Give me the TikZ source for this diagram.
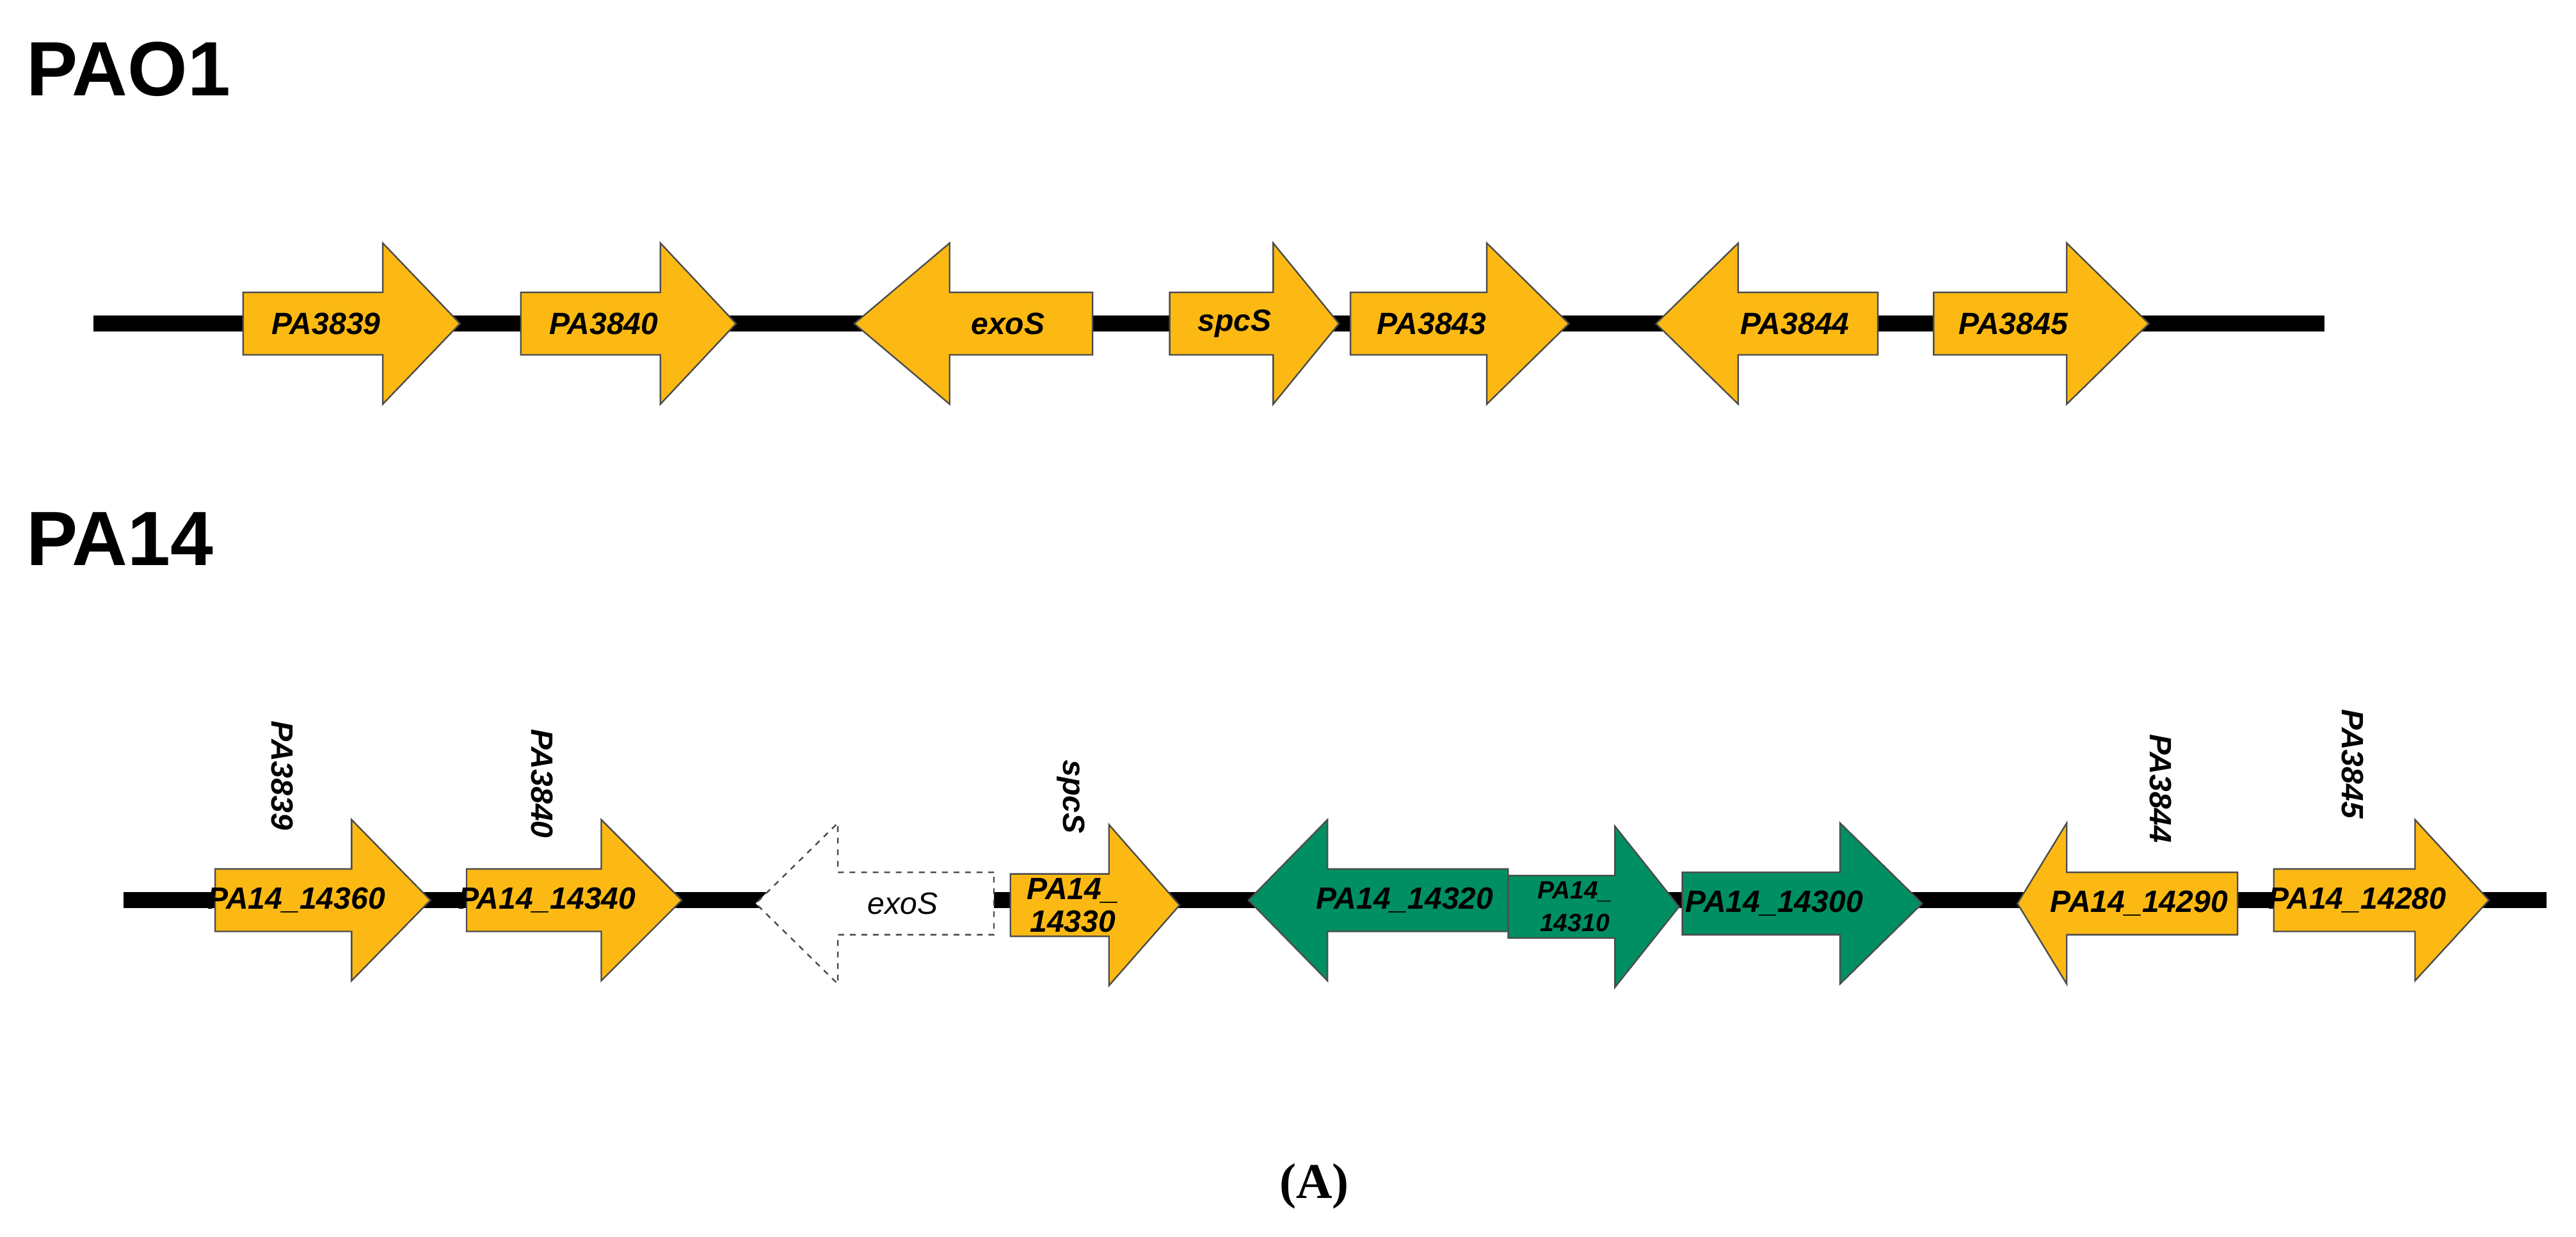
\documentclass[tikz,border=0pt]{standalone}
\usepackage{fontspec}
\setmainfont{Liberation Sans}
\newfontfamily\capfont{Liberation Serif}
\usetikzlibrary{positioning}

\definecolor{geneyellow}{HTML}{FDB913}
\definecolor{genegreen}{HTML}{008F62}

% gene arrow pointing right: name, x left, x head base, x tip, y, style
\newcommand{\generight}[6]{%
  \draw[#6] (#2,#5-19) -- (#3,#5-19) -- (#3,#5-49) -- (#4,#5) -- (#3,#5+49)
    -- (#3,#5+19) -- (#2,#5+19) -- cycle;
  \coordinate (#1) at ({(#2+#3)/2+8},#5);}
% gene arrow pointing left: name, x tip, x head base, x right, y, style
\newcommand{\geneleft}[6]{%
  \draw[#6] (#4,#5-19) -- (#3,#5-19) -- (#3,#5-49) -- (#2,#5) -- (#3,#5+49)
    -- (#3,#5+19) -- (#4,#5+19) -- cycle;
  \coordinate (#1) at ({(#3+#4)/2-8},#5);}

\begin{document}
\begin{tikzpicture}[x=0.03cm,y=-0.03cm]
\tikzset{yellow gene/.style={fill=geneyellow, draw=black!70, line width=0.8pt},
         green gene/.style={fill=genegreen, draw=black!70, line width=0.8pt},
         lost gene/.style={fill=white, draw=black!70, dashed, line width=0.8pt},
         backbone/.style={line width=8.5pt},
         strain/.style={font=\fontsize{40}{44}\selectfont\bfseries, anchor=west},
         label/.style={font=\fontsize{16}{17}\selectfont\bfseries\itshape, align=center, inner sep=0pt},
         old label/.style={label, rotate=-90}}
\useasboundingbox (0,0) rectangle (1568,753);

% PAO1
\node[strain] (PAO1) at (12,42) {PAO1};
\coordinate (B1s) at (57,197);
\coordinate (B1e) at (1415,197);
\draw[backbone] (B1s) -- (B1e);
\generight{g3839}{148}{233}{280}{197}{yellow gene}
\generight{g3840}{317}{402}{448}{197}{yellow gene}
\geneleft{gexoS}{520}{578}{665}{197}{yellow gene}
\generight{gspcS}{712}{775}{815}{197}{yellow gene}
\generight{g3843}{822}{905}{955}{197}{yellow gene}
\geneleft{g3844}{1008}{1058}{1143}{197}{yellow gene}
\generight{g3845}{1177}{1258}{1308}{197}{yellow gene}
\node[label] at (g3839) {PA3839};
\node[label] at (g3840) {PA3840};
\node[label] at (gexoS) {exoS};
\node[label] at (gspcS) {spcS};
\node[label] at (g3843) {PA3843};
\node[label] at (g3844) {PA3844};
\node[label] at (g3845) {PA3845};

% PA14
\node[strain] (PA14) at (12,328) {PA14};
\coordinate (B2s) at (75,548);
\coordinate (B2e) at (1550,548);
\draw[backbone] (B2s) -- (B2e);
\generight{g14360}{131}{214}{262}{548}{yellow gene}
\generight{g14340}{284}{366}{415}{548}{yellow gene}
\geneleft{gexoSlost}{460}{510}{605}{550}{lost gene}
\generight{g14330}{615}{675}{718}{551}{yellow gene}
\geneleft{g14320}{760}{808}{918}{548}{green gene}
\generight{g14310}{918}{983}{1022}{552}{green gene}
\generight{g14300}{1024}{1120}{1170}{550}{green gene}
\geneleft{g14290}{1228}{1258}{1362}{550}{yellow gene}
\generight{g14280}{1384}{1470}{1515}{548}{yellow gene}
\node[label] at (g14360) {PA14\_14360};
\node[label] at (g14340) {PA14\_14340};
\node[label, font=\fontsize{16}{17}\selectfont\itshape] at (gexoSlost) {exoS};
\node[label] at (g14330) {PA14\_\\14330};
\node[label] at (g14320) {PA14\_14320};
\node[label, font=\fontsize{13}{17}\selectfont\bfseries\itshape] at (g14310) {PA14\_\\14310};
\node[label] at (g14300) {PA14\_14300};
\node[label] at (g14290) {PA14\_14290};
\node[label] at (g14280) {PA14\_14280};
\node[old label] at (172,472) {PA3839};
\node[old label] at (330,477) {PA3840};
\node[old label] at (652,485) {spcS};
\node[old label] at (1315,480) {PA3844};
\node[old label] at (1432,465) {PA3845};

\node[font=\fontsize{26}{28}\selectfont\capfont\bfseries] (capA) at (800,722) {(A)};
\end{tikzpicture}
\end{document}
